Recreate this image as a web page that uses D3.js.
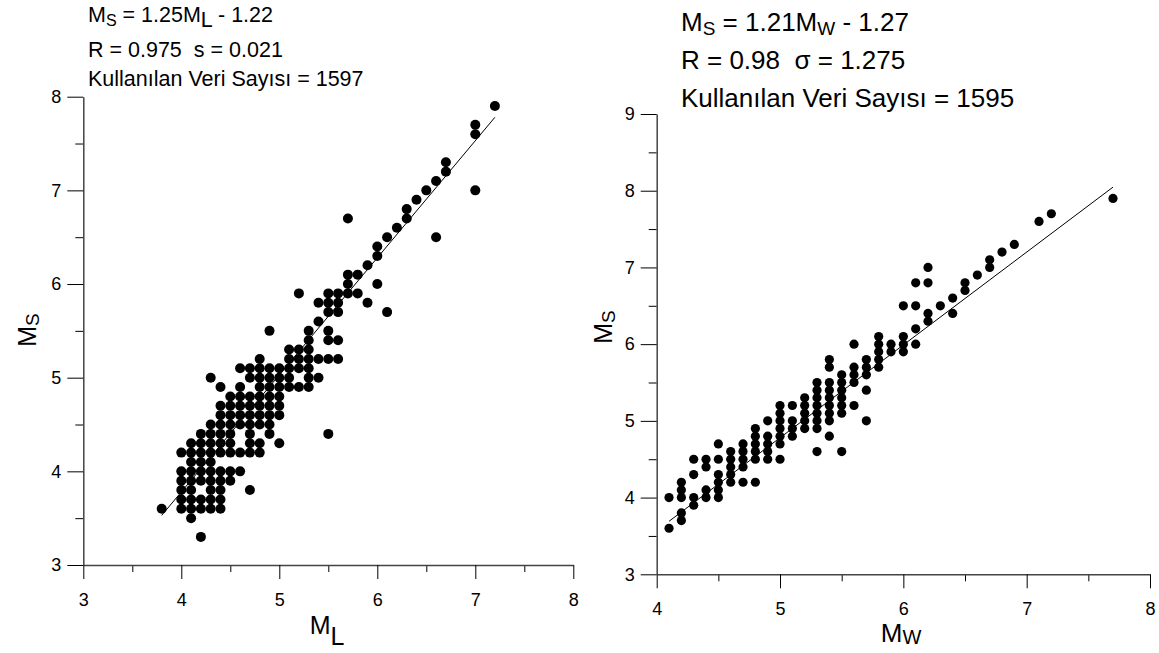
<!DOCTYPE html>
<html>
<head>
<meta charset="utf-8">
<script src="https://cdn.jsdelivr.net/npm/d3@7"></script>
<style>
  body { margin: 0; background: #fff; }
  svg { display: block; }
  text { font-family: "Liberation Sans", Arial, sans-serif; fill: #000; white-space: pre; }
</style>
</head>
<body>
<svg id="chart" width="1159" height="653"></svg>
<script>
// ML vs MS (left panel)
const mlMsPoints = [
  [3.8,3.6],[4.0,3.6],[4.1,3.6],[4.2,3.6],[4.3,3.6],[4.4,3.6],[4.1,3.5],[4.2,3.3],
  [4.0,3.7],[4.1,3.7],[4.2,3.7],[4.3,3.7],[4.4,3.7],
  [4.0,3.8],[4.1,3.8],[4.3,3.8],[4.4,3.8],[4.7,3.8],
  [4.0,3.9],[4.1,3.9],[4.2,3.9],[4.3,3.9],[4.4,3.9],[4.5,3.9],
  [4.0,4.0],[4.1,4.0],[4.2,4.0],[4.3,4.0],[4.4,4.0],[4.5,4.0],[4.6,4.0],
  [4.1,4.1],[4.2,4.1],[4.3,4.1],
  [4.0,4.2],[4.1,4.2],[4.2,4.2],[4.3,4.2],[4.4,4.2],[4.5,4.2],[4.6,4.2],[4.7,4.2],[4.8,4.2],
  [4.1,4.3],[4.2,4.3],[4.3,4.3],[4.4,4.3],[4.5,4.3],[4.7,4.3],[4.8,4.3],[5.0,4.3],
  [4.2,4.4],[4.3,4.4],[4.4,4.4],[4.5,4.4],[4.7,4.4],[4.9,4.4],[5.5,4.4],
  [4.3,4.5],[4.4,4.5],[4.5,4.5],[4.6,4.5],[4.7,4.5],[4.8,4.5],[4.9,4.5],
  [4.4,4.6],[4.5,4.6],[4.6,4.6],[4.7,4.6],[4.8,4.6],[4.9,4.6],[5.0,4.6],
  [4.4,4.7],[4.5,4.7],[4.6,4.7],[4.7,4.7],[4.8,4.7],[4.9,4.7],[5.0,4.7],
  [4.5,4.8],[4.6,4.8],[4.7,4.8],[4.8,4.8],[4.9,4.8],[5.0,4.8],
  [4.4,4.9],[4.6,4.9],[4.8,4.9],[4.9,4.9],[5.0,4.9],[5.1,4.9],[5.2,4.9],[5.3,4.9],
  [4.3,5.0],[4.7,5.0],[4.8,5.0],[4.9,5.0],[5.0,5.0],[5.1,5.0],[5.3,5.0],[5.4,5.0],
  [4.6,5.1],[4.7,5.1],[4.8,5.1],[4.9,5.1],[5.0,5.1],[5.1,5.1],[5.2,5.1],[5.3,5.1],
  [4.8,5.2],[5.1,5.2],[5.2,5.2],[5.3,5.2],[5.4,5.2],[5.5,5.2],[5.6,5.2],
  [5.1,5.3],[5.2,5.3],[5.3,5.3],
  [5.3,5.4],[5.5,5.4],[5.6,5.4],
  [4.9,5.5],[5.3,5.5],[5.5,5.5],
  [5.4,5.6],
  [5.5,5.7],[5.6,5.7],[6.1,5.7],
  [5.4,5.8],[5.5,5.8],[5.6,5.8],[5.9,5.8],
  [5.2,5.9],[5.5,5.9],[5.6,5.9],[5.7,5.9],[5.8,5.9],
  [5.7,6.0],[6.0,6.0],[5.7,6.1],[5.8,6.1],
  [5.9,6.2],[6.0,6.3],[6.0,6.4],[6.1,6.5],[6.6,6.5],[6.2,6.6],
  [5.7,6.7],[6.3,6.7],[6.3,6.8],[6.4,6.9],[6.5,7.0],[7.0,7.0],
  [6.6,7.1],[6.7,7.2],[6.7,7.3],[7.0,7.6],[7.0,7.7],[7.2,7.9]
];

// MW vs MS (right panel)
const mwMsPoints = [
  [4.1,3.6],[4.1,4.0],
  [4.2,3.7],[4.2,3.8],[4.2,4.0],[4.2,4.1],[4.2,4.2],
  [4.3,3.9],[4.3,4.0],[4.3,4.3],[4.3,4.5],
  [4.4,4.0],[4.4,4.1],[4.4,4.4],[4.4,4.5],
  [4.5,4.0],[4.5,4.1],[4.5,4.2],[4.5,4.3],[4.5,4.5],[4.5,4.7],
  [4.6,4.2],[4.6,4.3],[4.6,4.4],[4.6,4.5],[4.6,4.6],
  [4.7,4.2],[4.7,4.4],[4.7,4.5],[4.7,4.6],[4.7,4.7],
  [4.8,4.2],[4.8,4.5],[4.8,4.6],[4.8,4.7],[4.8,4.8],[4.8,4.9],
  [4.9,4.5],[4.9,4.6],[4.9,4.7],[4.9,4.8],[4.9,5.0],
  [5.0,4.5],[5.0,4.7],[5.0,4.8],[5.0,4.9],[5.0,5.0],[5.0,5.1],[5.0,5.2],
  [5.1,4.8],[5.1,4.9],[5.1,5.0],[5.1,5.2],
  [5.2,4.9],[5.2,5.0],[5.2,5.1],[5.2,5.2],[5.2,5.3],
  [5.3,4.6],[5.3,4.9],[5.3,5.0],[5.3,5.1],[5.3,5.2],[5.3,5.3],[5.3,5.4],[5.3,5.5],
  [5.4,4.8],[5.4,5.0],[5.4,5.1],[5.4,5.2],[5.4,5.3],[5.4,5.4],[5.4,5.5],[5.4,5.7],[5.4,5.8],
  [5.5,4.6],[5.5,5.1],[5.5,5.2],[5.5,5.3],[5.5,5.4],[5.5,5.5],[5.5,5.6],
  [5.6,5.2],[5.6,5.5],[5.6,5.6],[5.6,5.7],[5.6,6.0],
  [5.7,5.0],[5.7,5.4],[5.7,5.6],[5.7,5.7],[5.7,5.8],
  [5.8,5.7],[5.8,5.8],[5.8,5.9],[5.8,6.0],[5.8,6.1],
  [5.9,5.9],[5.9,6.0],
  [6.0,5.9],[6.0,6.0],[6.0,6.1],[6.0,6.5],
  [6.1,6.0],[6.1,6.2],[6.1,6.5],[6.1,6.8],
  [6.2,6.3],[6.2,6.4],[6.2,6.8],[6.2,7.0],
  [6.3,6.5],[6.4,6.4],[6.4,6.6],[6.5,6.7],[6.5,6.8],[6.6,6.9],
  [6.7,7.0],[6.7,7.1],[6.8,7.2],[6.9,7.3],[7.1,7.6],[7.2,7.7],[7.7,7.9]
];

// regression lines shown on each panel: [slope, intercept, xStart, xEnd]
const leftFit = [1.25, -1.22, 3.8, 7.2];
const rightFit = [1.21, -1.27, 4.1, 7.7];

const leftXTicks = [3, 4, 5, 6, 7, 8];
const leftYTicks = [3, 4, 5, 6, 7, 8];
const rightXTicks = [4, 5, 6, 7, 8];
const rightYTicks = [3, 4, 5, 6, 7, 8, 9];

const leftTitle = ["R = 0.975  s = 0.021", "Kullanılan Veri Sayısı = 1597"];
const rightTitle = ["R = 0.98  σ = 1.275", "Kullanılan Veri Sayısı = 1595"];

const svg = d3.select("#chart");

function minorTicks(ticks) {
  const out = [];
  for (let i = 0; i < ticks.length - 1; i++) out.push((ticks[i] + ticks[i + 1]) / 2);
  return out;
}

function drawPanel(opt) {
  const x = d3.scaleLinear().domain(d3.extent(opt.xTicks)).range(opt.xRange);
  const y = d3.scaleLinear().domain(d3.extent(opt.yTicks)).range(opt.yRange);
  const g = svg.append("g");

  // minor ticks first
  g.append("g")
    .attr("transform", `translate(0,${opt.yRange[0]})`)
    .call(d3.axisBottom(x).tickValues(minorTicks(opt.xTicks)).tickSize(7).tickFormat(""))
    .call(a => a.select(".domain").remove());
  g.append("g")
    .attr("transform", `translate(${opt.xRange[0]},0)`)
    .call(d3.axisLeft(y).tickValues(minorTicks(opt.yTicks)).tickSize(8).tickFormat(""))
    .call(a => a.select(".domain").remove());

  const xAxis = g.append("g")
    .attr("transform", `translate(0,${opt.yRange[0]})`)
    .call(d3.axisBottom(x).tickValues(opt.xTicks).tickFormat(d3.format("d"))
      .tickSize(14).tickSizeOuter(0).tickPadding(14));
  const yAxis = g.append("g")
    .attr("transform", `translate(${opt.xRange[0]},0)`)
    .call(d3.axisLeft(y).tickValues(opt.yTicks).tickFormat(d3.format("d"))
      .tickSize(16).tickSizeOuter(0).tickPadding(6));

  [xAxis, yAxis].forEach(a => {
    a.select(".domain").attr("stroke", "#444").attr("stroke-width", 1.5);
    a.selectAll(".tick text").style("font-size", "18px").attr("fill", "#000");
  });
  g.selectAll(".tick line").attr("stroke", "#000");

  // regression line
  const [m, b, x0, x1] = opt.fit;
  g.append("line")
    .attr("x1", x(x0)).attr("y1", y(m * x0 + b))
    .attr("x2", x(x1)).attr("y2", y(m * x1 + b))
    .attr("stroke", "#000")
    .attr("stroke-width", 1);

  g.append("g")
    .selectAll("circle")
    .data(opt.points)
    .join("circle")
    .attr("cx", d => x(d[0]))
    .attr("cy", d => y(d[1]))
    .attr("r", opt.r)
    .attr("fill", "#000");

  return { x, y, g };
}

drawPanel({
  points: mlMsPoints, fit: leftFit, r: 5,
  xTicks: leftXTicks, yTicks: leftYTicks,
  xRange: [83.3, 573.3], yRange: [565, 96.7]
});

drawPanel({
  points: mwMsPoints, fit: rightFit, r: 4.6,
  xTicks: rightXTicks, yTicks: rightYTicks,
  xRange: [656.7, 1150], yRange: [574.3, 114]
});

// "M" with a subscript letter
function magText(sel, sub, subSize, subDy) {
  sel.append("tspan").text("M");
  sel.append("tspan").text(sub).style("font-size", subSize).attr("dy", subDy);
}

// left panel headings
const lt = svg.append("g").style("font-size", "21.5px");
const l1 = lt.append("text").attr("x", 88).attr("y", 22);
magText(l1, "S", "16px", 4);
l1.append("tspan").text(" = 1.25M").attr("dy", -4);
l1.append("tspan").text("L").attr("dy", 5);
l1.append("tspan").text(" - 1.22").attr("dy", -5);
leftTitle.forEach((t, i) => lt.append("text").attr("x", 88).attr("y", 57 + i * 29).text(t));

// right panel headings
const rt = svg.append("g").style("font-size", "26px");
const r1 = rt.append("text").attr("x", 681).attr("y", 31);
magText(r1, "S", "19px", 4);
r1.append("tspan").text(" = 1.21M").attr("dy", -4);
r1.append("tspan").text("W").style("font-size", "19px").attr("dy", 4);
r1.append("tspan").text(" - 1.27").attr("dy", -4);
rightTitle.forEach((t, i) => rt.append("text").attr("x", 681).attr("y", 69 + i * 38).text(t));

// axis titles
const xl = svg.append("text").attr("x", 327).attr("y", 634)
  .attr("text-anchor", "middle").style("font-size", "25px");
xl.append("tspan").text("M");
xl.append("tspan").text("L").attr("dy", 11);

const xr = svg.append("text").attr("x", 901).attr("y", 642)
  .attr("text-anchor", "middle").style("font-size", "26px");
xr.append("tspan").text("M");
xr.append("tspan").text("W").style("font-size", "20px").attr("dy", 2);

[[36, 330], [612, 327]].forEach(([tx, ty]) => {
  const t = svg.append("text")
    .attr("transform", `translate(${tx},${ty}) rotate(-90)`)
    .attr("text-anchor", "middle").style("font-size", "25px");
  t.append("tspan").text("M");
  t.append("tspan").text("S").style("font-size", "19px").attr("dy", 3);
});
</script>
</body>
</html>
